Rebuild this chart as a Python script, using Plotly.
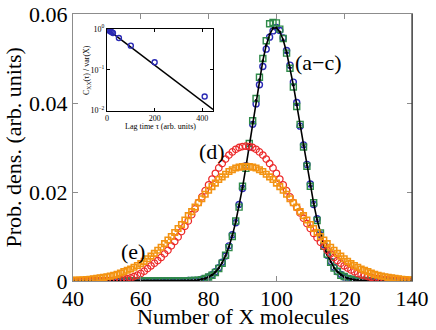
import plotly.graph_objects as go

# ---------------- data ----------------
x_mol = list(range(40, 141))

# (c) black line: theory for the narrow distribution
p_line = [0, 0, 0, 0, 0, 0, 0, 0, 0, 0,
          0, 0, 0, 0, 0, 0, 0, 0, 0, 0,
          0, 0, 0, 0, 0, 0, 0, 0, 0, 0,
          0, 0.00001, 0.00002, 0.00003, 0.00005, 0.00008, 0.00014, 0.00023, 0.00037, 0.00058,
          0.0009, 0.00135, 0.0020, 0.0029, 0.0041, 0.0057, 0.0077, 0.0102, 0.0133, 0.0169,
          0.0210, 0.0256, 0.0305, 0.0356, 0.0406, 0.0453, 0.0495, 0.0530, 0.0554, 0.0568,
          0.0569, 0.0560, 0.0542, 0.0514, 0.0480, 0.0440, 0.0396, 0.0350, 0.0304, 0.0260,
          0.0215, 0.0174, 0.0138, 0.0106, 0.0080, 0.0059, 0.0043, 0.0030, 0.0021, 0.0014,
          0.0009, 0.0006, 0.0004, 0.00025, 0.00015, 0.0001, 0.00006, 0.00003, 0.00002, 0,
          0, 0, 0, 0, 0, 0, 0, 0, 0, 0, 0]

# (a) blue circles
p_a = [0, 0, 0, 0, 0, 0, 0, 0, 0, 0,
       0, 0, 0, 0, 0, 0, 0, 0, 0, 0,
       0, 0, 0, 0, 0, 0, 0, 0, 0, 0,
       0, 0, 0, 0, 0.0001, 0.0001, 0.0001, 0.0002, 0.0004, 0.0006,
       0.0009, 0.0014, 0.0021, 0.0030, 0.0042, 0.0056, 0.0079, 0.0104, 0.0131, 0.0172,
       0.0208, 0.0259, 0.0301, 0.0352, 0.0398, 0.0441, 0.0482, 0.0521, 0.0548, 0.0562,
       0.0570, 0.0563, 0.0546, 0.0518, 0.0485, 0.0447, 0.0401, 0.0348, 0.0306, 0.0262,
       0.0218, 0.0172, 0.0140, 0.0104, 0.0082, 0.0058, 0.0044, 0.0031, 0.0021, 0.0015,
       0.0009, 0.0006, 0.0004, 0.0003, 0.0002, 0.0001, 0.0001, 0, 0, 0,
       0, 0, 0, 0, 0, 0, 0, 0, 0, 0, 0]

# (b) green squares
p_b = [0, 0, 0, 0, 0, 0, 0, 0, 0, 0,
       0, 0, 0, 0, 0, 0, 0, 0, 0, 0,
       0, 0, 0, 0, 0, 0, 0, 0, 0, 0,
       0, 0, 0, 0, 0, 0.0001, 0.0001, 0.0002, 0.0003, 0.0006,
       0.0009, 0.0013, 0.0019, 0.0028, 0.0040, 0.0058, 0.0075, 0.0100, 0.0135, 0.0166,
       0.0213, 0.0253, 0.0309, 0.0360, 0.0410, 0.0458, 0.0500, 0.0540, 0.0578, 0.0581,
       0.0580, 0.0566, 0.0545, 0.0512, 0.0478, 0.0436, 0.0392, 0.0352, 0.0301, 0.0258,
       0.0213, 0.0176, 0.0136, 0.0108, 0.0078, 0.0060, 0.0042, 0.0029, 0.0022, 0.0013,
       0.0010, 0.0006, 0.0004, 0.0002, 0.0001, 0.0001, 0.0001, 0, 0, 0,
       0, 0, 0, 0, 0, 0, 0, 0, 0, 0, 0]

# (d) red circles
p_d = [0, 0, 0, 0, 0, 0, 0.00001, 0.00002, 0.00003, 0.00005,
       0.00007, 0.0001, 0.00015, 0.0002, 0.0003, 0.0004, 0.0005, 0.0007, 0.0010, 0.0013,
       0.0017, 0.0022, 0.0028, 0.0034, 0.0040, 0.0046, 0.0053, 0.0061, 0.0069, 0.0079,
       0.0089, 0.0099, 0.0111, 0.0123, 0.0135, 0.0149, 0.0162, 0.0176, 0.0189, 0.0203,
       0.0216, 0.0229, 0.0242, 0.0254, 0.0264, 0.0274, 0.0283, 0.0290, 0.0296, 0.0300,
       0.0302, 0.0303, 0.0302, 0.0300, 0.0296, 0.0290, 0.0283, 0.0274, 0.0264, 0.0254,
       0.0242, 0.0229, 0.0216, 0.0203, 0.0189, 0.0176, 0.0165, 0.0153, 0.0141, 0.0129,
       0.0118, 0.0107, 0.0097, 0.0087, 0.0078, 0.0069, 0.0061, 0.0053, 0.0046, 0.0040,
       0.0034, 0.0029, 0.0025, 0.0021, 0.0017, 0.0014, 0.0012, 0.0010, 0.0008, 0.0006,
       0.0005, 0.0004, 0.0003, 0.00025, 0.0002, 0.00015, 0.00011, 0.00008, 0.00006, 0.00004,
       0.00003]

# (e) orange squares
p_e = [0.00016, 0.0002, 0.00024, 0.00029, 0.00035, 0.00041, 0.00049, 0.00059, 0.0007, 0.00082,
       0.00097, 0.0011, 0.0013, 0.0015, 0.0018, 0.0021, 0.0024, 0.0027, 0.0031, 0.0035,
       0.0039, 0.0044, 0.0050, 0.0056, 0.0062, 0.0069, 0.0076, 0.0084, 0.0092, 0.0100,
       0.0109, 0.0118, 0.0127, 0.0137, 0.0147, 0.0156, 0.0166, 0.0176, 0.0185, 0.0195,
       0.0204, 0.0212, 0.0220, 0.0228, 0.0234, 0.0240, 0.0246, 0.0250, 0.0254, 0.0256,
       0.0257, 0.0258, 0.0257, 0.0256, 0.0254, 0.0250, 0.0246, 0.0240, 0.0234, 0.0228,
       0.0220, 0.0212, 0.0204, 0.0195, 0.0185, 0.0176, 0.0166, 0.0156, 0.0147, 0.0137,
       0.0127, 0.0118, 0.0109, 0.0100, 0.0092, 0.0084, 0.0076, 0.0069, 0.0062, 0.0056,
       0.0050, 0.0044, 0.0039, 0.0035, 0.0031, 0.0027, 0.0024, 0.0021, 0.0018, 0.0015,
       0.0013, 0.0011, 0.00097, 0.00082, 0.0007, 0.00059, 0.00049, 0.00041, 0.00035, 0.00029,
       0.00024]

# inset: autocorrelation
lag_pts = [0, 3, 6, 10, 15, 20, 25, 50, 100, 200, 410]
acf_pts = [1.0, 0.97, 0.94, 0.91, 0.87, 0.84, 0.80, 0.60, 0.39, 0.153, 0.022]
lag_fit = [0, 445]
acf_fit = [1.0, 0.0106]

x_ticks = [40, 60, 80, 100, 120, 140]
y_ticks = [0, 0.02, 0.04, 0.06]
y_ticktext = ["0", "0.02", "0.04", "0.06"]
in_x_ticks = [0, 200, 400]
in_y_ticks = [0.01, 0.1, 1]
in_y_ticktext = ["10<sup>−2</sup>", "10<sup>−1</sup>", "10<sup>0</sup>"]

# ---------------- figure ----------------
SERIF = "Liberation Serif"
RED = "#ec2a2a"
ORANGE = "#f39312"
BLUE = "#2a2ab4"
GREEN = "#2f8a4a"

fig = go.Figure()
fig.add_trace(go.Scatter(x=x_mol, y=p_a, mode="markers",
                         marker=dict(symbol="circle-open", size=6, color=BLUE, line=dict(width=1.4, color=BLUE))))
fig.add_trace(go.Scatter(x=x_mol, y=p_b, mode="markers",
                         marker=dict(symbol="square-open", size=6, color=GREEN, line=dict(width=1.4, color=GREEN))))
fig.add_trace(go.Scatter(x=x_mol, y=p_line, mode="lines+markers",
                         line=dict(color="black", width=1.6),
                         marker=dict(symbol="circle", size=2.5, color="black")))
fig.add_trace(go.Scatter(x=x_mol, y=p_d, mode="markers",
                         marker=dict(symbol="circle-open", size=6.5, color=RED, line=dict(width=1.3, color=RED))))
fig.add_trace(go.Scatter(x=x_mol, y=p_e, mode="markers",
                         marker=dict(symbol="square-open", size=5.5, color=ORANGE, line=dict(width=1.6, color=ORANGE))))

# inset
fig.add_trace(go.Scatter(x=lag_fit, y=acf_fit, mode="lines", xaxis="x2", yaxis="y2",
                         line=dict(color="black", width=1.5)))
fig.add_trace(go.Scatter(x=lag_pts, y=acf_pts, mode="markers", xaxis="x2", yaxis="y2",
                         marker=dict(symbol="circle-open", size=5, color=BLUE, line=dict(width=1.4, color=BLUE))))

PL, PR, PT, PB = 73, 24, 14, 49
W, H = 436, 330
pw, ph = W - PL - PR, H - PT - PB


def px_to_paper_x(px):
    return (px - PL) / pw


def px_to_paper_y(py):
    return (H - PB - py) / ph


fig.update_layout(
    template="none",
    width=W, height=H,
    autosize=False,
    margin=dict(l=PL, r=PR, t=PT, b=PB, pad=0),
    paper_bgcolor="white", plot_bgcolor="white",
    showlegend=False,
    font=dict(family=SERIF, color="black"),
    xaxis=dict(range=[40, 140], tickvals=x_ticks, ticks="inside", ticklen=5,
               tickcolor="#8c8c8c", showline=True, linecolor="#8c8c8c", linewidth=1.2,
               mirror="ticks", showgrid=False, zeroline=False, automargin=False,
               ticklabelstandoff=-3,
               tickfont=dict(family=SERIF, size=22, color="black")),
    yaxis=dict(range=[0, 0.06], tickvals=y_ticks, ticktext=y_ticktext, ticks="inside",
               ticklen=5, tickcolor="#8c8c8c", showline=True, linecolor="#8c8c8c",
               linewidth=1.2, mirror="ticks", showgrid=False, zeroline=False, automargin=False,
               tickfont=dict(family=SERIF, size=22, color="black")),
    xaxis2=dict(domain=[px_to_paper_x(107), px_to_paper_x(213)], anchor="y2",
                range=[0, 445], tickvals=in_x_ticks, ticks="inside", ticklen=3,
                tickcolor="black", showline=True, linecolor="black", linewidth=1,
                mirror="ticks", showgrid=False, zeroline=False, automargin=False,
                tickfont=dict(family=SERIF, size=8, color="black")),
    yaxis2=dict(domain=[px_to_paper_y(110.5), px_to_paper_y(29)], anchor="x2",
                type="log", range=[-2, 0], tickvals=in_y_ticks, ticktext=in_y_ticktext,
                ticks="inside", ticklen=3, tickcolor="black", showline=True,
                linecolor="black", linewidth=1, mirror="ticks", showgrid=False,
                zeroline=False, automargin=False,
                tickfont=dict(family=SERIF, size=8, color="black")),
)

# darker right border as in the original
fig.add_shape(type="line", xref="paper", yref="paper", x0=1, x1=1, y0=0, y1=1,
              line=dict(color="#333333", width=1.2))

annos = [
    dict(text="Number of X molecules", x=0.5, y=px_to_paper_y(317), xref="paper", yref="paper",
         showarrow=False, font=dict(family=SERIF, size=22), xanchor="center", yanchor="middle"),
    dict(text="Prob. dens. (arb. units)", x=px_to_paper_x(13), y=0.5, xref="paper", yref="paper",
         showarrow=False, textangle=-90, font=dict(family=SERIF, size=22),
         xanchor="center", yanchor="middle"),
    dict(text="(a−c)", x=112.3, y=0.0492, xref="x", yref="y", showarrow=False,
         font=dict(family=SERIF, size=22)),
    dict(text="(d)", x=80.9, y=0.0291, xref="x", yref="y", showarrow=False,
         font=dict(family=SERIF, size=22)),
    dict(text="(e)", x=57.8, y=0.0067, xref="x", yref="y", showarrow=False,
         font=dict(family=SERIF, size=22)),
    dict(text="Lag time τ (arb. units)", x=px_to_paper_x(160), y=px_to_paper_y(126),
         xref="paper", yref="paper", showarrow=False, font=dict(family=SERIF, size=8),
         xanchor="center", yanchor="middle"),
    dict(text="C<sub>XX</sub>(τ) / var(X)", x=px_to_paper_x(87), y=px_to_paper_y(70),
         xref="paper", yref="paper", showarrow=False, textangle=-90,
         font=dict(family=SERIF, size=8), xanchor="center", yanchor="middle"),
]
fig.update_layout(annotations=annos)

fig.write_html("out.html", config={"displayModeBar": False},
               post_script="document.body.style.margin='0';")
